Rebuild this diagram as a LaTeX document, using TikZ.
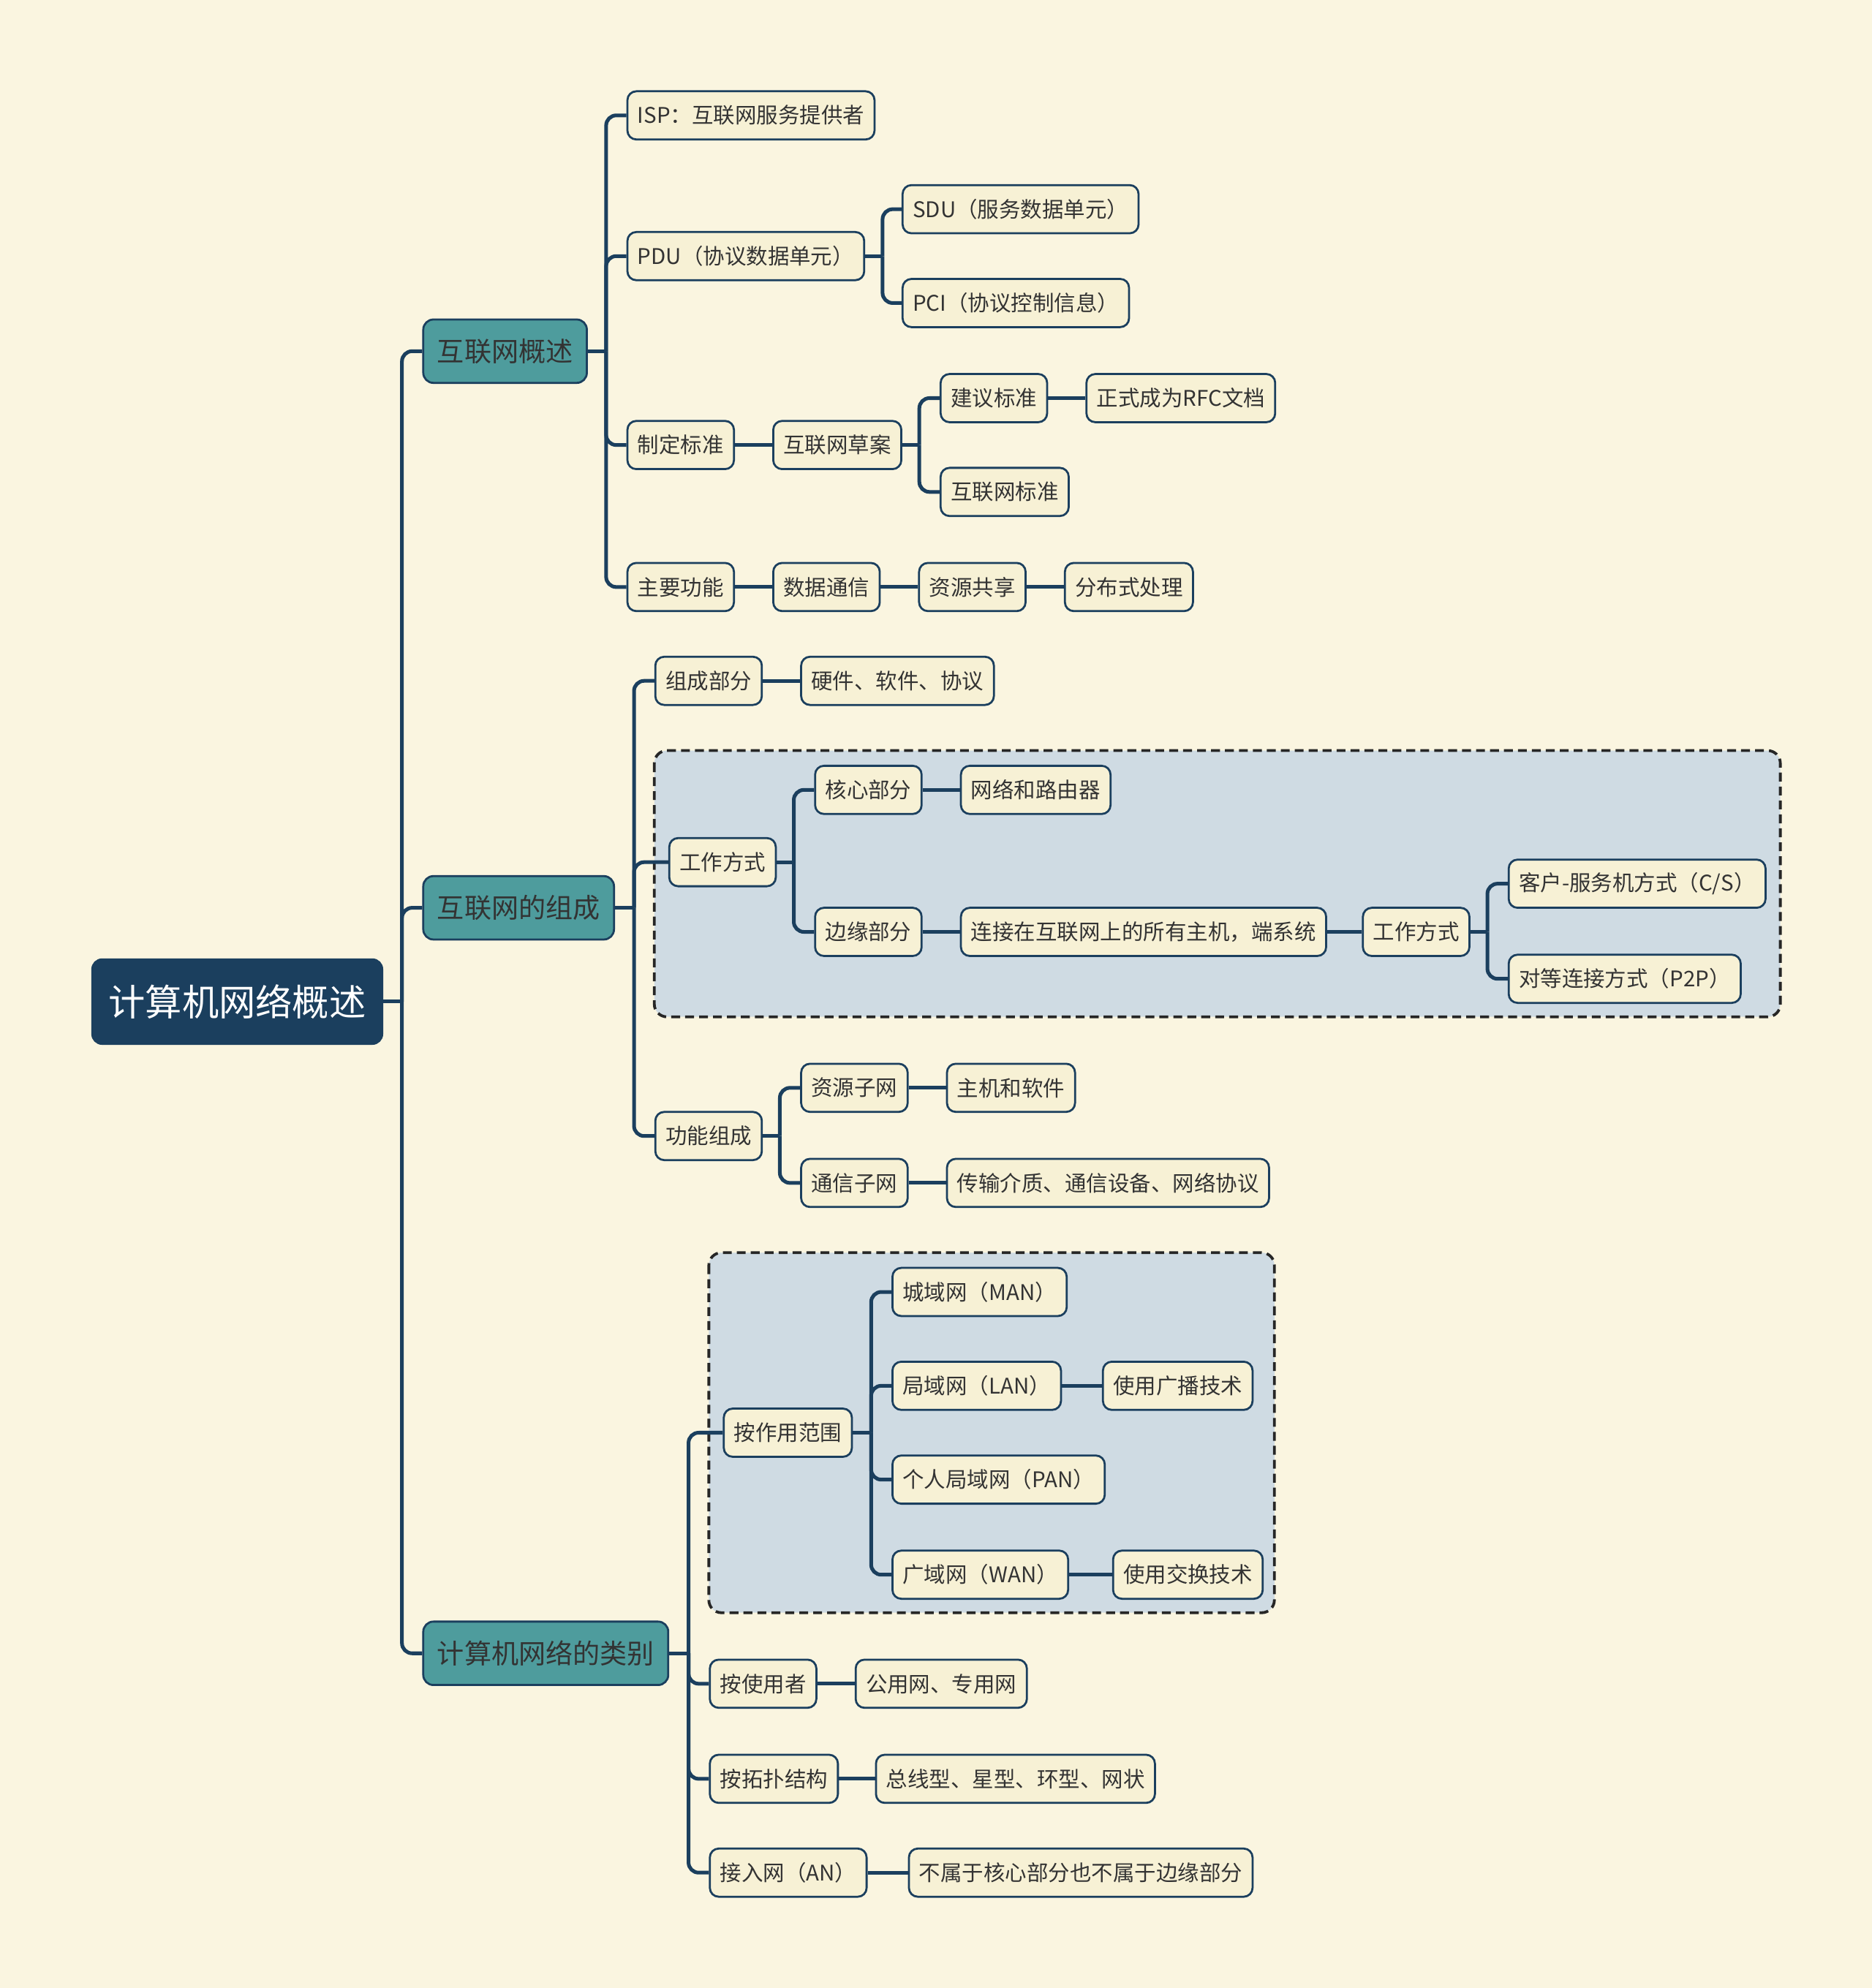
\documentclass[tikz,border=0pt]{standalone}
\usepackage{fontspec}
\setmainfont{Noto Sans CJK SC}
\usetikzlibrary{arrows.meta, positioning, calc, backgrounds}
\definecolor{bgCream}  {RGB}{250,245,224}
\definecolor{lCream}   {RGB}{247,241,213}
\definecolor{mTeal}    {RGB}{78,156,157}
\definecolor{dkNavy}   {RGB}{27,63,94}
\definecolor{lSky}     {RGB}{207,219,227}
\definecolor{dkText}   {RGB}{51,51,51}
\definecolor{dkFrame}  {RGB}{38,38,38}

\begin{document}
\begin{tikzpicture}[x=0.5pt, y=-0.5pt,
    ROOT/.style={draw=dkNavy, fill=dkNavy, text=white, rounded corners=4pt, line width=0.6pt, font=\fontsize{14.5}{16}\selectfont, minimum height=33.5pt, inner xsep=6.5pt, anchor=west},
    TOPIC/.style={draw=dkNavy, fill=mTeal, text=dkText, rounded corners=4pt, line width=0.8pt, font=\fontsize{10.7}{12}\selectfont, minimum height=25pt, inner xsep=5.5pt, anchor=west},
    LEAF/.style={draw=dkNavy, fill=lCream, text=dkText, rounded corners=3.5pt, line width=0.8pt, font=\fontsize{8.5}{10}\selectfont, minimum height=19pt, inner xsep=4pt, anchor=west},
    LINK/.style={draw=dkNavy, line width=1.45pt},
    BOX/.style={draw=dkFrame, dash pattern=on 3.5pt off 2pt, fill=lSky, rounded corners=5pt, line width=1.1pt}]
    \useasboundingbox (0,0) rectangle (1476,1568);
    \fill[bgCream] (0,0) rectangle (1476,1568);
    % dashed group frames
    \draw[BOX] (516,592) rectangle (1404,802);
    \draw[BOX] (559,988) rectangle (1005,1272);

    % root and topics
    \node[ROOT] (root) at (72,790) {计算机网络概述};
    \node[TOPIC] (g1) at (333,277) {互联网概述};
    \node[TOPIC] (g2) at (333,716) {互联网的组成};
    \node[TOPIC] (g3) at (333,1304) {计算机网络的类别};

    % topic 1
    \node[LEAF] (isp) at (494,91) {ISP：互联网服务提供者};
    \node[LEAF] (pdu) at (494,202) {PDU（协议数据单元）};
    \node[LEAF] (sdu) at (711,165) {SDU（服务数据单元）};
    \node[LEAF] (pci) at (711,239) {PCI（协议控制信息）};
    \node[LEAF] (zdbz) at (494,351) {制定标准};
    \node[LEAF] (hlwca) at (609,351) {互联网草案};
    \node[LEAF] (jybz) at (741,314) {建议标准};
    \node[LEAF] (rfc) at (856,314) {正式成为RFC文档};
    \node[LEAF] (hlwbz) at (741,388) {互联网标准};
    \node[LEAF] (zygn) at (494,463) {主要功能};
    \node[LEAF] (sjtx) at (609,463) {数据通信};
    \node[LEAF] (zygx) at (724,463) {资源共享};
    \node[LEAF] (fbscl) at (839,463) {分布式处理};

    % topic 2
    \node[LEAF] (zcbf) at (516,537) {组成部分};
    \node[LEAF] (yrx) at (631,537) {硬件、软件、协议};
    \node[LEAF] (gzfs) at (527,680) {工作方式};
    \node[LEAF] (hxbf) at (642,623) {核心部分};
    \node[LEAF] (wlly) at (757,623) {网络和路由器};
    \node[LEAF] (bybf) at (642,735) {边缘部分};
    \node[LEAF] (ljzj) at (757,735) {连接在互联网上的所有主机，端系统};
    \node[LEAF] (gzfsb) at (1074,735) {工作方式};
    \node[LEAF] (cs) at (1189,697) {客户-服务机方式（C/S）};
    \node[LEAF] (p2p) at (1189,772) {对等连接方式（P2P）};
    \node[LEAF] (gnzc) at (516,896) {功能组成};
    \node[LEAF] (zyzw) at (631,858) {资源子网};
    \node[LEAF] (zjrj) at (746,858) {主机和软件};
    \node[LEAF] (txzw) at (631,933) {通信子网};
    \node[LEAF] (cszz) at (746,933) {传输介质、通信设备、网络协议};

    % topic 3
    \node[LEAF] (azyfw) at (570,1130) {按作用范围};
    \node[LEAF] (cyw) at (703,1019) {城域网（MAN）};
    \node[LEAF] (jyw) at (703,1093) {局域网（LAN）};
    \node[LEAF] (gbjs) at (869,1093) {使用广播技术};
    \node[LEAF] (grjyw) at (703,1167) {个人局域网（PAN）};
    \node[LEAF] (gyw) at (703,1242) {广域网（WAN）};
    \node[LEAF] (jhjs) at (877,1242) {使用交换技术};
    \node[LEAF] (asyz) at (559,1328) {按使用者};
    \node[LEAF] (gyzy) at (674,1328) {公用网、专用网};
    \node[LEAF] (atpjg) at (559,1403) {按拓扑结构};
    \node[LEAF] (zxx) at (690,1403) {总线型、星型、环型、网状};
    \node[LEAF] (jrw) at (559,1477) {接入网（AN）};
    \node[LEAF] (bsy) at (716,1477) {不属于核心部分也不属于边缘部分};

    % branch points
    \coordinate (j0) at (317,790);
    \coordinate (j1) at (478,277);
    \coordinate (jpdu) at (696,202);
    \coordinate (jca) at (725,351);
    \coordinate (j2) at (500,716);
    \coordinate (jgz) at (626,680);
    \coordinate (jgzb) at (1173,735);
    \coordinate (jgn) at (615,896);
    \coordinate (j3) at (543,1304);
    \coordinate (jfw) at (687,1130);

    % connectors
    \draw[LINK] (root.east) -- (j0);
    \foreach \c in {g1,g2,g3} \draw[LINK, rounded corners=4pt] (j0) |- (\c.west);
    \draw[LINK] (g1.east) -- (j1);
    \foreach \c in {isp,pdu,zdbz,zygn} \draw[LINK, rounded corners=4pt] (j1) |- (\c.west);
    \draw[LINK] (pdu.east) -- (jpdu);
    \foreach \c in {sdu,pci} \draw[LINK, rounded corners=4pt] (jpdu) |- (\c.west);
    \draw[LINK] (zdbz) -- (hlwca);
    \draw[LINK] (hlwca.east) -- (jca);
    \foreach \c in {jybz,hlwbz} \draw[LINK, rounded corners=4pt] (jca) |- (\c.west);
    \draw[LINK] (jybz) -- (rfc);
    \draw[LINK] (zygn) -- (sjtx); \draw[LINK] (sjtx) -- (zygx); \draw[LINK] (zygx) -- (fbscl);

    \draw[LINK] (g2.east) -- (j2);
    \foreach \c in {zcbf,gzfs,gnzc} \draw[LINK, rounded corners=4pt] (j2) |- (\c.west);
    \draw[LINK] (zcbf) -- (yrx);
    \draw[LINK] (gzfs.east) -- (jgz);
    \foreach \c in {hxbf,bybf} \draw[LINK, rounded corners=4pt] (jgz) |- (\c.west);
    \draw[LINK] (hxbf) -- (wlly);
    \draw[LINK] (bybf) -- (ljzj); \draw[LINK] (ljzj) -- (gzfsb);
    \draw[LINK] (gzfsb.east) -- (jgzb);
    \foreach \c in {cs,p2p} \draw[LINK, rounded corners=4pt] (jgzb) |- (\c.west);
    \draw[LINK] (gnzc.east) -- (jgn);
    \foreach \c in {zyzw,txzw} \draw[LINK, rounded corners=4pt] (jgn) |- (\c.west);
    \draw[LINK] (zyzw) -- (zjrj);
    \draw[LINK] (txzw) -- (cszz);

    \draw[LINK] (g3.east) -- (j3);
    \foreach \c in {azyfw,asyz,atpjg,jrw} \draw[LINK, rounded corners=4pt] (j3) |- (\c.west);
    \draw[LINK] (azyfw.east) -- (jfw);
    \foreach \c in {cyw,jyw,grjyw,gyw} \draw[LINK, rounded corners=4pt] (jfw) |- (\c.west);
    \draw[LINK] (jyw) -- (gbjs);
    \draw[LINK] (gyw) -- (jhjs);
    \draw[LINK] (asyz) -- (gyzy);
    \draw[LINK] (atpjg) -- (zxx);
    \draw[LINK] (jrw) -- (bsy);
\end{tikzpicture}
\end{document}
